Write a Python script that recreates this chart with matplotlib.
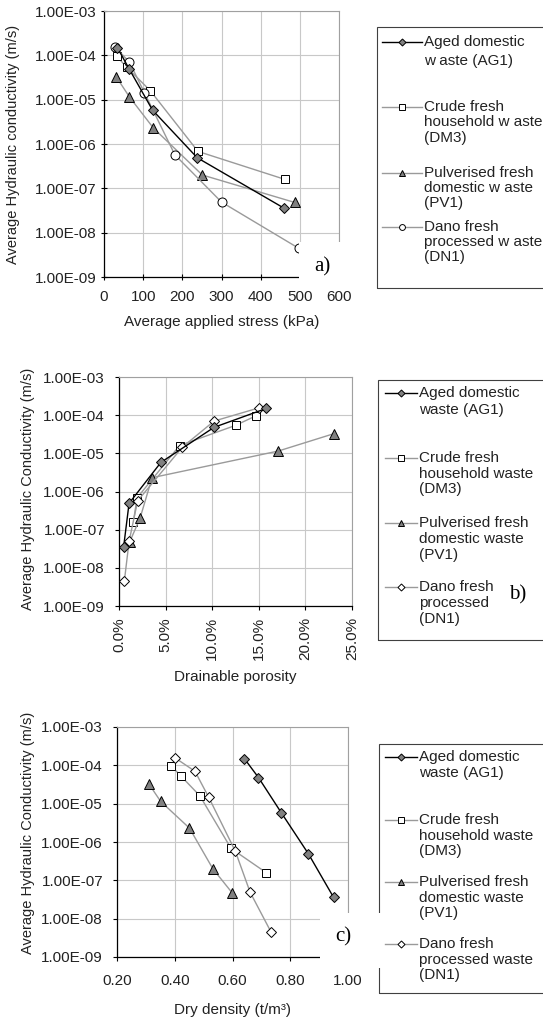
import matplotlib
matplotlib.use("Agg")
import matplotlib.pyplot as plt
from matplotlib.lines import Line2D
from matplotlib.patches import Rectangle
from matplotlib.ticker import FuncFormatter, LogLocator, NullLocator

plt.rcParams['font.family'] = ['Liberation Sans', 'DejaVu Sans']

# ---- data ----
# a) applied stress (kPa)
stress_ag1 = [34, 65, 124, 238, 459]
stress_dm3 = [32, 58, 118, 240, 461]
stress_pv1 = [31, 65, 126, 251, 487]
stress_dn1 = [28, 65, 103, 181, 300, 498]

# hydraulic conductivity (m/s), same tests in every panel
k_ag1 = [1.5e-4, 4.8e-5, 5.8e-6, 4.9e-7, 3.6e-8]
k_dm3 = [9.6e-5, 5.4e-5, 1.6e-5, 6.8e-7, 1.6e-7]
k_pv1 = [3.3e-5, 1.15e-5, 2.3e-6, 2.0e-7, 4.8e-8]
k_dn1 = [1.55e-4, 7.0e-5, 1.45e-5, 5.7e-7, 4.9e-8, 4.4e-9]

# b) drainable porosity (%)
por_ag1 = [15.8, 10.2, 4.5, 1.08, 0.5]
por_dm3 = [14.7, 12.5, 6.5, 1.94, 1.54]
por_pv1 = [23.1, 17.1, 3.55, 2.26, 1.15]
por_dn1 = [15.0, 10.2, 6.8, 2.0, 1.08, 0.57]

# c) dry density (t/m3)
dens_ag1 = [0.641, 0.690, 0.769, 0.863, 0.950]
dens_dm3 = [0.388, 0.420, 0.487, 0.595, 0.716]
dens_pv1 = [0.310, 0.351, 0.451, 0.532, 0.598]
dens_dn1 = [0.402, 0.470, 0.518, 0.610, 0.661, 0.734]

labels_a = [["Aged domestic", "w aste (AG1)"],
            ["Crude fresh", "household w aste", "(DM3)"],
            ["Pulverised fresh", "domestic w aste", "(PV1)"],
            ["Dano fresh", "processed w aste", "(DN1)"]]
labels_b = [["Aged domestic", "waste (AG1)"],
            ["Crude fresh", "household waste", "(DM3)"],
            ["Pulverised fresh", "domestic waste", "(PV1)"],
            ["Dano fresh", "processed", "(DN1)"]]   # rest hidden behind the "b)" tag
labels_c = [["Aged domestic", "waste (AG1)"],
            ["Crude fresh", "household waste", "(DM3)"],
            ["Pulverised fresh", "domestic waste", "(PV1)"],
            ["Dano fresh", "processed waste", "(DN1)"]]

ylabel_a = "Average Hydraulic conductivity (m/s)"
ylabel_bc = "Average Hydraulic Conductivity (m/s)"

W, H = 543, 1021
fig = plt.figure(figsize=(W / 100, H / 100), dpi=100)

GREY = '#9a9a9a'
style_ag1 = dict(color='black', lw=1, marker='D', mfc='#808080', mec='black', mew=0.7, ms=5.5)
style_dm3 = dict(color=GREY, lw=1, marker='s', mfc='white', mec='black', mew=0.7, ms=6)
style_pv1 = dict(color=GREY, lw=1, marker='^', mfc='#808080', mec='black', mew=0.7, ms=7)
style_dn1a = dict(color=GREY, lw=1, marker='o', mfc='white', mec='black', mew=0.7, ms=6.5)
style_dn1 = dict(color=GREY, lw=1, marker='D', mfc='white', mec='black', mew=0.7, ms=5.5)


def fx(x):
    return x / W


def fy(y):
    return 1 - y / H


def make_axes(left, top, right, bottom):
    return fig.add_axes([fx(left), fy(bottom), (right - left) / W, (bottom - top) / H])


def style_axes(ax, tickdir):
    ax.set_yscale('log')
    ax.set_ylim(1e-9, 1e-3)
    ax.yaxis.set_major_locator(LogLocator(base=10, numticks=12))
    ax.yaxis.set_minor_locator(NullLocator())
    ax.yaxis.set_major_formatter(FuncFormatter(lambda v, p: f'{v:.2E}'))
    ax.grid(True, color='#c8c8c8', lw=0.8)
    ax.set_axisbelow(True)
    for s in ['top', 'right']:
        ax.spines[s].set_color('#a0a0a0')
    for s in ['left', 'bottom']:
        ax.spines[s].set_linewidth(0.9)
    ax.tick_params(direction=tickdir, length=5 if tickdir == 'inout' else 3,
                   width=0.8, labelsize=11, labelcolor='#222222')


def draw_key(labels, markers, box, hx0, hx1, tx, firsts, steps):
    left, top, bottom = box
    fig.add_artist(Rectangle((fx(left), fy(bottom)), fx(700 - left), (bottom - top) / H,
                             fill=False, ec='#404040', lw=0.8, zorder=1))
    for lab, st, y0, step in zip(labels, markers, firsts, steps):
        hm = (hx0 + hx1) / 2
        ln = Line2D([fx(hx0), fx(hm), fx(hx1)], [fy(y0)] * 3, markevery=[1], zorder=1,
                    **dict(st, ms=st['ms'] * 0.65))
        fig.add_artist(ln)
        for i, t in enumerate(lab):
            fig.text(fx(tx), fy(y0 + i * step), t, fontsize=11, va='center', ha='left',
                     color='#222222', zorder=1)


def panel_tag(text, box, pos):
    x0, y0, x1, y1 = box
    fig.add_artist(Rectangle((fx(x0), fy(y1)), (x1 - x0) / W, (y1 - y0) / H,
                             fc='white', ec='none', zorder=5))
    fig.text(fx(pos[0]), fy(pos[1]), text, fontsize=15, family='Liberation Serif',
             ha='center', va='center', zorder=6)


# ---- a) ----
ax = make_axes(104, 11, 339, 277)
style_axes(ax, 'inout')
ax.plot(stress_ag1, k_ag1, zorder=5, **style_ag1)
ax.plot(stress_dm3, k_dm3, zorder=4, **style_dm3)
ax.plot(stress_pv1, k_pv1, zorder=4, **style_pv1)
ax.plot(stress_dn1, k_dn1, zorder=4, **style_dn1a)
ax.set_xlim(0, 600)
ax.set_xticks(range(0, 601, 100))
ax.tick_params(axis='x', pad=7)
ax.tick_params(axis='y', pad=3)
ax.set_xlabel("Average applied stress (kPa)", fontsize=11, va='center', color='#222222')
ax.xaxis.set_label_coords(0.5, (277 - 322) / 266)
ax.set_ylabel(ylabel_a, fontsize=10.5, va='center', color='#222222')
ax.yaxis.set_label_coords((13 - 104) / 235, 0.5)

draw_key(labels_a, [style_ag1, style_dm3, style_pv1, style_dn1a], (377, 27, 288),
         382, 422, 424, [42, 107, 173, 227], [19, 15.5, 15, 15])
panel_tag("a)", (299, 242, 372, 284), (322, 267))

# ---- b) ----
ax = make_axes(119, 377, 352, 606)
style_axes(ax, 'out')
ax.plot(por_ag1, k_ag1, zorder=5, **style_ag1)
ax.plot(por_dm3, k_dm3, zorder=4, **style_dm3)
ax.plot(por_pv1, k_pv1, zorder=4, **style_pv1)
ax.plot(por_dn1, k_dn1, zorder=4, **style_dn1)
ax.set_xlim(0, 25)
ax.set_xticks(range(0, 26, 5))
ax.xaxis.set_major_formatter(FuncFormatter(lambda v, p: f'{v:.1f}%'))
ax.tick_params(axis='x', rotation=90, pad=5)
ax.tick_params(axis='y', pad=7)
ax.set_xlabel("Drainable porosity", fontsize=11, va='center', color='#222222')
ax.xaxis.set_label_coords(0.5, (606 - 677) / 229)
ax.set_ylabel(ylabel_bc, fontsize=10.5, va='center', color='#222222')
ax.yaxis.set_label_coords((28 - 119) / 233, 0.51)

draw_key(labels_b, [style_ag1, style_dm3, style_pv1, style_dn1], (378, 380, 640),
         385, 417, 419, [393, 458, 523, 587], [17, 15.5, 16, 16])
panel_tag("b)", (499, 574, 560, 630), (518, 595))

# ---- c) ----
ax = make_axes(117, 727, 348, 957)
style_axes(ax, 'out')
ax.plot(dens_ag1, k_ag1, zorder=5, **style_ag1)
ax.plot(dens_dm3, k_dm3, zorder=4, **style_dm3)
ax.plot(dens_pv1, k_pv1, zorder=4, **style_pv1)
ax.plot(dens_dn1, k_dn1, zorder=4, **style_dn1)
ax.set_xlim(0.2, 1.0)
ax.set_xticks([0.2, 0.4, 0.6, 0.8, 1.0])
ax.xaxis.set_major_formatter(FuncFormatter(lambda v, p: f'{v:.2f}'))
ax.tick_params(axis='x', pad=9)
ax.tick_params(axis='y', pad=7)
ax.set_xlabel("Dry density (t/m³)", fontsize=11, va='center', color='#222222')
ax.xaxis.set_label_coords(0.5, (957 - 1010) / 230)
ax.set_ylabel(ylabel_bc, fontsize=10.5, va='center', color='#222222')
ax.yaxis.set_label_coords((28.5 - 117) / 231, 0.54)

draw_key(labels_c, [style_ag1, style_dm3, style_pv1, style_dn1], (379, 744, 993),
         385, 417, 419, [757, 820, 882, 944], [15.5, 15.5, 15.5, 15.5])
panel_tag("c)", (320, 913, 382, 968), (343, 937))

fig.savefig("out.png", dpi=100)
